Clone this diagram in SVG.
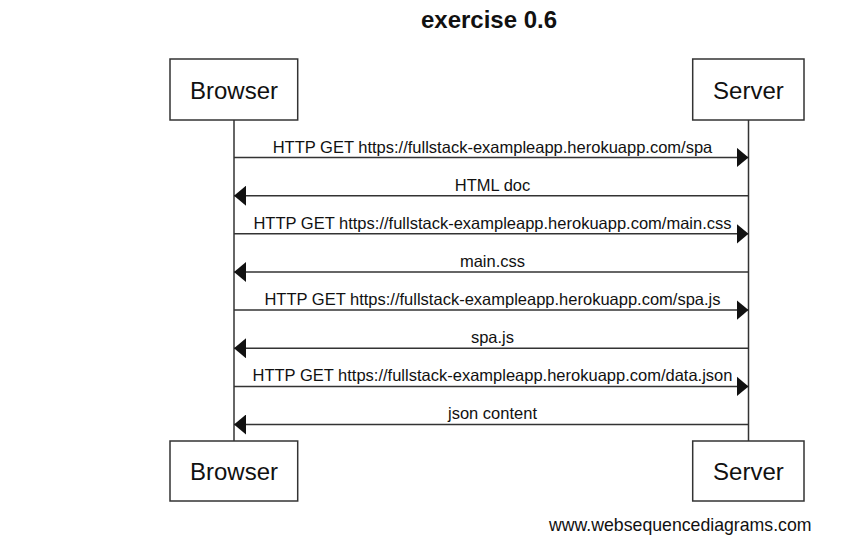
<svg xmlns="http://www.w3.org/2000/svg" width="852" height="549" viewBox="0 0 852 549">
<style>
  .box { fill: #ffffff; stroke: #333333; stroke-width: 1.5; }
  .life { stroke: #333333; stroke-width: 1.5; fill: none; }
  .msg { stroke: #333333; stroke-width: 1.5; fill: none; marker-end: url(#ah); }
  .actor { font-family: "Liberation Sans", Arial, sans-serif; font-size: 24px; fill: #111111; text-anchor: middle; }
  .lbl { font-family: "Liberation Sans", Arial, sans-serif; font-size: 16.5px; fill: #111111; text-anchor: middle; }
  .title { font-family: "Liberation Sans", Arial, sans-serif; font-size: 24px; font-weight: bold; fill: #111111; text-anchor: middle; }
  .foot { font-family: "Liberation Sans", Arial, sans-serif; font-size: 17.7px; fill: #111111; text-anchor: end; }
</style>
<defs>
  <marker id="ah" markerUnits="userSpaceOnUse" markerWidth="12" markerHeight="20" refX="12" refY="10" orient="auto" viewBox="0 0 12 20">
    <path d="M0,0 L12,10 L0,20 z" fill="#111111"/>
  </marker>
</defs>
<rect width="852" height="549" fill="#ffffff"/>
<text class="title" x="489" y="28">exercise 0.6</text>

<g id="lifelines">
  <line class="life" x1="234" y1="120" x2="234" y2="441"/>
  <line class="life" x1="748.5" y1="120" x2="748.5" y2="441"/>
</g>

<g id="browser-top">
  <rect class="box" x="170" y="59" width="127.7" height="61"/>
  <text class="actor" x="234" y="99">Browser</text>
</g>
<g id="server-top">
  <rect class="box" x="692.7" y="59" width="111.3" height="61"/>
  <text class="actor" x="748.4" y="99">Server</text>
</g>
<g id="browser-bottom">
  <rect class="box" x="170" y="441" width="127.7" height="60"/>
  <text class="actor" x="234" y="479.5">Browser</text>
</g>
<g id="server-bottom">
  <rect class="box" x="692.7" y="441" width="111.3" height="60"/>
  <text class="actor" x="748.4" y="479.5">Server</text>
</g>

<g id="connectors">
  <line class="msg" x1="234" y1="157.5" x2="748.5" y2="157.5"/>
  <line class="msg" x1="748.5" y1="195.7" x2="234" y2="195.7"/>
  <line class="msg" x1="234" y1="233.8" x2="748.5" y2="233.8"/>
  <line class="msg" x1="748.5" y1="272" x2="234" y2="272"/>
  <line class="msg" x1="234" y1="310.1" x2="748.5" y2="310.1"/>
  <line class="msg" x1="748.5" y1="348.3" x2="234" y2="348.3"/>
  <line class="msg" x1="234" y1="386.4" x2="748.5" y2="386.4"/>
  <line class="msg" x1="748.5" y1="424.5" x2="234" y2="424.5"/>
</g>

<g id="labels">
  <text class="lbl" x="492.5" y="152.5">HTTP GET https://fullstack-exampleapp.herokuapp.com/spa</text>
  <text class="lbl" x="492.5" y="190.5">HTML doc</text>
  <text class="lbl" x="492.5" y="228.7">HTTP GET https://fullstack-exampleapp.herokuapp.com/main.css</text>
  <text class="lbl" x="492.5" y="266.8">main.css</text>
  <text class="lbl" x="492.5" y="305">HTTP GET https://fullstack-exampleapp.herokuapp.com/spa.js</text>
  <text class="lbl" x="492.5" y="343.1">spa.js</text>
  <text class="lbl" x="492.5" y="381.2">HTTP GET https://fullstack-exampleapp.herokuapp.com/data.json</text>
  <text class="lbl" x="492.5" y="419.3">json content</text>
</g>

<text class="foot" x="811.5" y="531">www.websequencediagrams.com</text>
</svg>
